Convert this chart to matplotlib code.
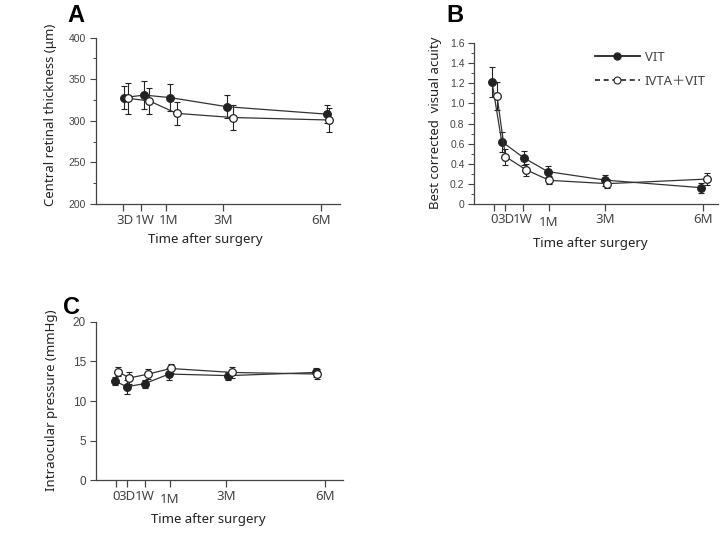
import matplotlib
matplotlib.use("Agg")
import matplotlib.pyplot as plt
from matplotlib.lines import Line2D
from matplotlib.ticker import MultipleLocator, FuncFormatter, NullLocator
from matplotlib.transforms import ScaledTranslation

W, H = 723, 555
INK = "#222222"
MUTED = "#444444"
TEXT_FONT = ["Noto Sans", "Noto Sans CJK JP", "DejaVu Sans"]
NUM_FONT = ["Liberation Sans Narrow", "Liberation Sans", "DejaVu Sans"]

# Time axis (arbitrary positions)
TICK_POS = [0, 0.53, 1.38, 2.6, 5.3, 10.0]
TICK_LAB = ["0", "3D", "1W", "1M", "3M", "6M"]

# Panel A: central retinal thickness (um), time points 3D..6M
A_x_vit = [0.60, 1.53, 2.77, 5.50, 10.30]
A_vit = [328, 331, 328, 317, 308]
A_vit_sd = [14, 17, 16, 14, 11]
A_x_ivta = [0.79, 1.79, 3.09, 5.78, 10.39]
A_ivta = [327, 324, 309, 304, 301]
A_ivta_sd = [19, 16, 14, 15, 14]

# Panel B: best corrected visual acuity, time points 0..6M
B_x_vit = [-0.11, 0.35, 1.42, 2.56, 5.31, 9.89]
B_vit = [1.21, 0.62, 0.456, 0.32, 0.235, 0.16]
B_vit_sd = [0.15, 0.10, 0.065, 0.055, 0.055, 0.05]
B_x_ivta = [0.13, 0.53, 1.50, 2.63, 5.41, 10.19]
B_ivta = [1.07, 0.47, 0.34, 0.233, 0.20, 0.246]
B_ivta_sd = [0.14, 0.08, 0.06, 0.04, 0.045, 0.06]

# Panel C: intraocular pressure (mmHg), time points 0..6M
C_x_vit = [-0.03, 0.53, 1.40, 2.55, 5.39, 9.58]
C_vit = [12.5, 11.8, 12.2, 13.4, 13.2, 13.6]
C_vit_sd = [0.5, 0.9, 0.5, 0.7, 0.5, 0.6]
C_x_ivta = [0.12, 0.65, 1.56, 2.63, 5.58, 9.65]
C_ivta = [13.7, 12.9, 13.4, 14.1, 13.6, 13.4]
C_ivta_sd = [0.6, 0.7, 0.6, 0.6, 0.7, 0.6]

plt.rcParams.update({
    "font.family": TEXT_FONT,
    "axes.linewidth": 0.9,
    "axes.edgecolor": MUTED,
})

fig = plt.figure(figsize=(W / 100, H / 100), dpi=100)


def px_axes(left, top, right, bottom):
    return fig.add_axes([left / W, 1 - bottom / H, (right - left) / W, (bottom - top) / H])


def style_ax(ax, ticks, labels, xlim, ylim, major, minor, ysize=7.5):
    for s in ("top", "right"):
        ax.spines[s].set_visible(False)
    ax.set_xlim(*xlim)
    ax.set_ylim(*ylim)
    ax.set_xticks(ticks)
    ax.set_xticklabels(labels, fontsize=9.5, color=MUTED)
    ax.yaxis.set_major_locator(MultipleLocator(major))
    if minor:
        ax.yaxis.set_minor_locator(MultipleLocator(minor))
    else:
        ax.yaxis.set_minor_locator(NullLocator())
    ax.tick_params(axis="x", direction="out", length=5, width=0.9, color=MUTED, pad=2)
    ax.tick_params(axis="y", which="major", direction="out", length=4, width=0.8,
                   color=MUTED, pad=3, labelsize=ysize, labelcolor=MUTED)
    ax.tick_params(axis="y", which="minor", direction="out", length=2.5, width=0.7,
                   color=MUTED)
    for t in ax.get_yticklabels():
        t.set_family(NUM_FONT)


def nudge(label, dx_px=0, dy_px=0):
    label.set_transform(label.get_transform()
                        + ScaledTranslation(dx_px / 100, dy_px / 100, fig.dpi_scale_trans))


def draw_series(ax, x, y, sd, filled):
    ax.errorbar(x, y, yerr=sd, fmt="none", ecolor=INK, elinewidth=0.8,
                capsize=2, capthick=0.8, zorder=2)
    ax.plot(x, y, color="#333333", linewidth=0.9, marker="o", markersize=5.5,
            markerfacecolor=INK if filled else "white", markeredgecolor=INK,
            markeredgewidth=0.9, zorder=3)


# ---- Panel A
axA = px_axes(96, 37.7, 340, 204)
draw_series(axA, A_x_vit, A_vit, A_vit_sd, True)
draw_series(axA, A_x_ivta, A_ivta, A_ivta_sd, False)
style_ax(axA, TICK_POS[1:], TICK_LAB[1:], (-0.76, 10.9), (200, 400), 50, 25)
for lbl, dx in zip(axA.get_xticklabels(), [2, 4, 2, 0, 0]):
    nudge(lbl, dx)

# ---- Panel B
axB = px_axes(474.3, 43.3, 718, 203.7)
draw_series(axB, B_x_vit, B_vit, B_vit_sd, True)
draw_series(axB, B_x_ivta, B_ivta, B_ivta_sd, False)
style_ax(axB, TICK_POS, TICK_LAB, (-0.96, 10.7), (0, 1.6), 0.2, 0.1)
axB.yaxis.set_major_formatter(
    FuncFormatter(lambda v, p: "0" if abs(v) < 1e-9 else f"{v:.1f}"))

# ---- Panel C
axC = px_axes(95.7, 321.7, 343, 480.3)
draw_series(axC, C_x_vit, C_vit, C_vit_sd, True)
draw_series(axC, C_x_ivta, C_ivta, C_ivta_sd, False)
style_ax(axC, TICK_POS, TICK_LAB, (-0.96, 10.88), (0, 20), 5, None, ysize=8.5)

# 1M label sits a little lower in B and C
for ax in (axB, axC):
    nudge(ax.get_xticklabels()[3], 0, -3)

# legend (panel B)
handles = [
    Line2D([], [], color=INK, linewidth=1.3, marker="o", markersize=5,
           markerfacecolor=INK, markeredgecolor=INK),
    Line2D([], [], color=INK, linewidth=1.2, linestyle=(0, (3, 2.2)), marker="o",
           markersize=5, markerfacecolor="white", markeredgecolor=INK,
           markeredgewidth=0.8),
]
fig.legend(handles, ["VIT", "IVTA\uff0bVIT"], loc="upper left",
           bbox_to_anchor=(595 / W, 1 - 51 / H), frameon=False,
           prop={"family": TEXT_FONT, "size": 9.5}, labelcolor=MUTED,
           handlelength=3.4, handletextpad=0.38, labelspacing=0.8,
           borderpad=0, borderaxespad=0)

# axis titles
lab = dict(family=TEXT_FONT, fontsize=9.5, color=INK, ha="center", va="center")
fig.text(205 / W, 1 - 240 / H, "Time after surgery", **lab)
fig.text(590 / W, 1 - 243 / H, "Time after surgery", **lab)
fig.text(208 / W, 1 - 519 / H, "Time after surgery", **lab)
fig.text(51 / W, 1 - 115 / H, "Central retinal thickness (\u03bcm)", rotation=90, **lab)
fig.text(436 / W, 1 - 123 / H, "Best corrected  visual acuity", rotation=90, **lab)
fig.text(52 / W, 1 - 400 / H, "Intraocular pressure (mmHg)", rotation=90, **lab)

# panel letters
let = dict(family=["Liberation Sans", "DejaVu Sans"], fontsize=17, fontweight="bold",
           color="black", ha="center", va="center")
fig.text(76 / W, 1 - 16 / H, "A", **let)
fig.text(455 / W, 1 - 16 / H, "B", **let)
fig.text(72 / W, 1 - 307 / H, "C", **let)

fig.savefig("out.png", dpi=100, facecolor="white")
